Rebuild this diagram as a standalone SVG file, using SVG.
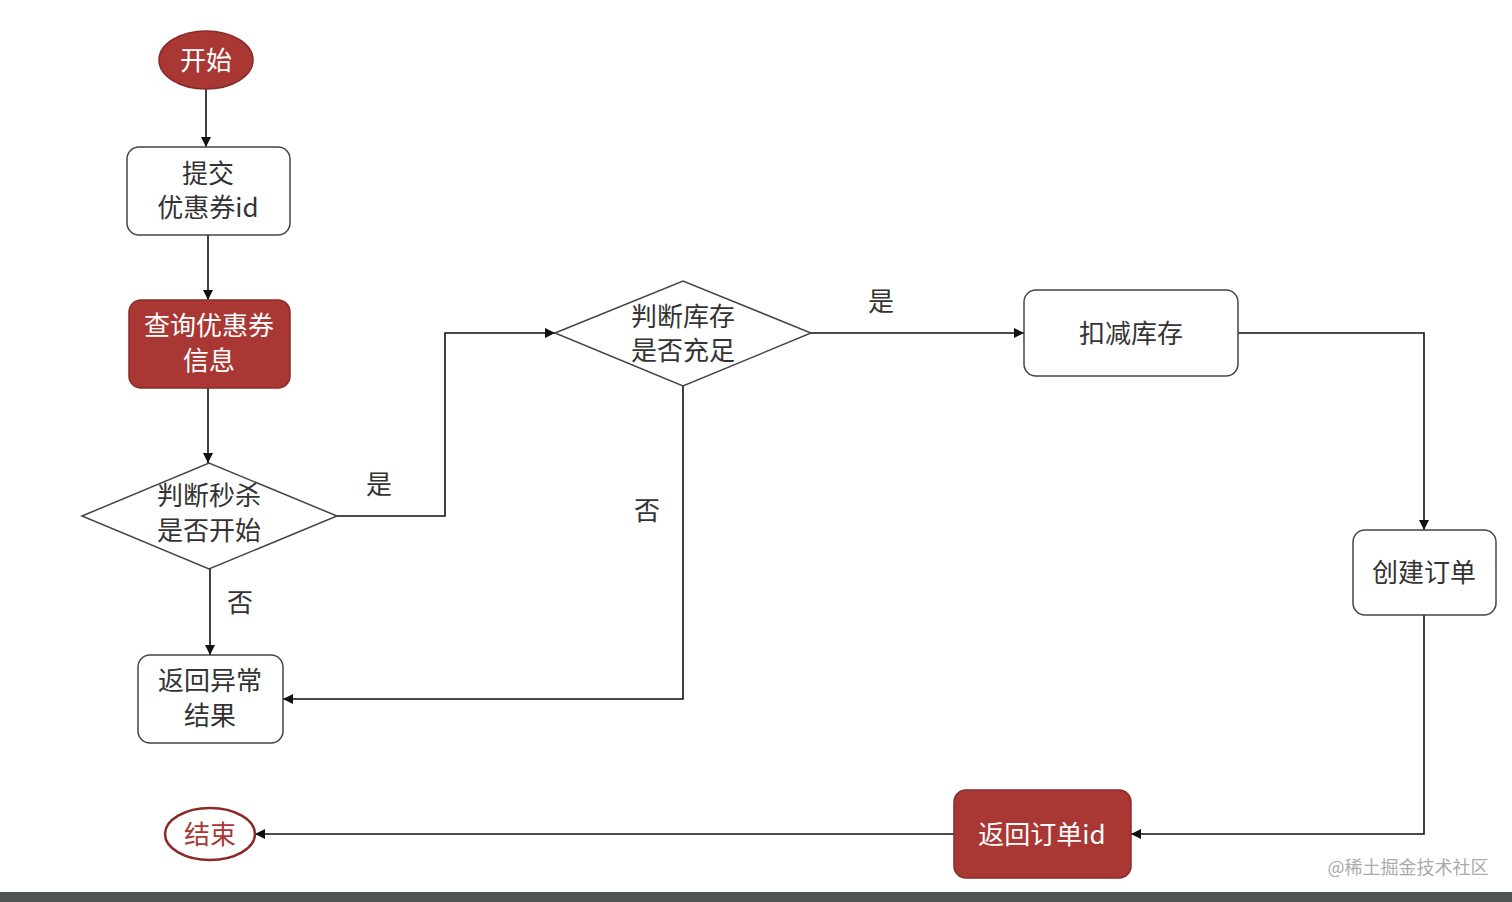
<svg xmlns="http://www.w3.org/2000/svg" width="1512" height="902" viewBox="0 0 1512 902">
<style>
text{font-family:"Noto Sans CJK SC","Liberation Sans",sans-serif;font-size:26px;text-anchor:middle;fill:#333}
.w{fill:#fff}
.n{fill:#fff;stroke:#444;stroke-width:1.5}
.r{fill:#a93834;stroke:#8a2a27;stroke-width:1.5}
.c{fill:none;stroke:#111;stroke-width:1.6;marker-end:url(#a)}
</style>
<defs><marker id="a" viewBox="0 0 10 10" refX="10" refY="5" markerWidth="10" markerHeight="10" markerUnits="userSpaceOnUse" orient="auto"><path d="M0,0L10,5L0,10z" fill="#111"/></marker></defs>
<rect width="1512" height="902" fill="#fff"/>
<g id="connectors">
<path class="c" d="M206,89V147"/>
<path class="c" d="M208,235V300"/>
<path class="c" d="M208,388V463"/>
<path class="c" d="M210,569V655"/>
<path class="c" d="M337,516H445V333H555"/>
<path class="c" d="M683,386V699H283"/>
<path class="c" d="M811,333H1024"/>
<path class="c" d="M1238,333H1424V530"/>
<path class="c" d="M1424,615V834H1131"/>
<path class="c" d="M954,834H255"/>
<text x="240" y="612">否</text>
<text x="379" y="494">是</text>
<text x="647" y="520">否</text>
<text x="881" y="311">是</text>
</g>
<g id="start"><ellipse class="r" cx="206" cy="60" rx="47" ry="29"/><text class="w" x="206" y="70">开始</text></g>
<g id="submit"><rect class="n" x="127" y="147" width="163" height="88" rx="12"/><text x="208" y="183">提交</text><text x="208" y="217">优惠券id</text></g>
<g id="query"><rect class="r" x="129" y="300" width="161" height="88" rx="12"/><text class="w" x="209" y="335">查询优惠券</text><text class="w" x="209" y="370">信息</text></g>
<g id="check1"><path class="n" d="M82,516L209,463L337,516L209,569z"/><text x="209" y="505">判断秒杀</text><text x="209" y="540">是否开始</text></g>
<g id="error"><rect class="n" x="138" y="655" width="145" height="88" rx="12"/><text x="210" y="690">返回异常</text><text x="210" y="725">结果</text></g>
<g id="end"><ellipse cx="210" cy="834" rx="45" ry="26" fill="#fff" stroke="#8a2a27" stroke-width="2.5"/><text x="210" y="844" style="fill:#a93834">结束</text></g>
<g id="check2"><path class="n" d="M555,333L683,281L811,333L683,386z"/><text x="683" y="326">判断库存</text><text x="683" y="360">是否充足</text></g>
<g id="deduct"><rect class="n" x="1024" y="290" width="214" height="86" rx="12"/><text x="1131" y="343">扣减库存</text></g>
<g id="create"><rect class="n" x="1353" y="530" width="143" height="85" rx="12"/><text x="1424" y="582">创建订单</text></g>
<g id="ret"><rect class="r" x="954" y="790" width="177" height="88" rx="12"/><text class="w" x="1042" y="844">返回订单id</text></g>
<text x="1408" y="874" style="font-size:18px;fill:#aaa">@稀土掘金技术社区</text>
<rect x="0" y="892" width="1512" height="10" fill="#4f5352"/>
</svg>
